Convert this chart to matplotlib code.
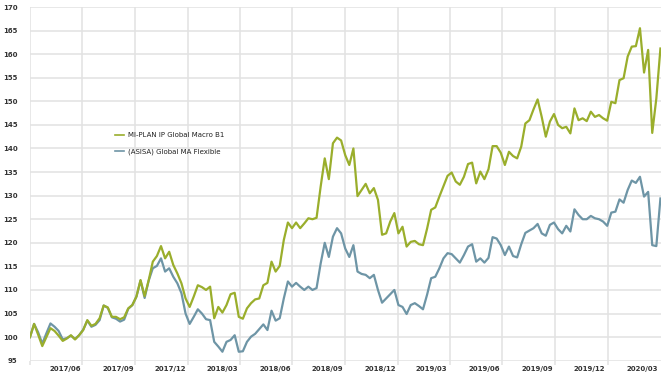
import matplotlib
matplotlib.use("Agg")
import matplotlib.pyplot as plt
import matplotlib.dates as mdates
import pandas as pd
import numpy as np

series_names = ["MI-PLAN IP Global Macro B1", "(ASISA) Global MA Flexible"]

green_values = [
    100, 102.8, 100.5, 98.1, 100, 101.9, 101.3, 100.3, 99.2, 99.7,
    100.4, 99.5, 100.4, 101.5, 103.6, 102.4, 102.8, 104, 106.7, 106.3,
    104.3, 104.3, 103.8, 104.2, 106.1, 106.8, 108.6, 112.1, 108.7, 112.1,
    116, 117.2, 119.3, 116.7, 118.1, 115.3, 113.5, 111.4, 108.2, 106.4,
    108.6, 111, 110.6, 110, 110.7, 104, 106.4, 105.2, 106.8, 109.1,
    109.4, 104.3, 103.9, 106.1, 107.2, 108, 108.2, 111, 111.5, 116,
    113.9, 115.1, 120.6, 124.3, 123.1, 124.3, 123.1, 124.1, 125.2, 125,
    125.3, 131.9, 137.9, 133.5, 141.1, 142.3, 141.7, 138.6, 136.5, 140,
    129.9, 131.2, 132.5, 130.5, 131.6, 129.1, 121.7, 122, 124.5, 126.3,
    122, 123.4, 119.2, 120.2, 120.4, 119.7, 119.5, 123, 127, 127.5,
    129.8, 132, 134.2, 134.9, 133, 132.3, 134, 136.7, 137, 132.6,
    135.1, 133.5, 135.6, 140.5, 140.5, 139.1, 136.5, 139.3, 138.4, 137.9,
    140.4, 145.3, 146, 148.3, 150.4, 146.7, 142.5, 145.7, 147.3, 145,
    144.3, 144.6, 143.2, 148.5, 146, 146.4, 145.8, 147.8, 146.7, 147.1,
    146.4, 145.9, 149.9, 149.6, 154.5, 154.9, 159.5, 161.6, 161.7, 165.5,
    156.1, 160.9, 143.3, 150.6, 161.2,
]

blue_values = [
    100, 102.8, 101, 98.6, 100.8, 102.9, 102.2, 101.3, 99.5, 99.8,
    100.3, 99.6, 100.4, 101.6, 103.5, 102.2, 102.6, 103.6, 106.7, 106.2,
    104.2, 103.9, 103.3, 103.7, 106, 106.8, 108.6, 112, 108.3, 112,
    114.6, 115.1, 116.7, 113.9, 114.6, 112.8, 111.4, 109.3, 105, 102.8,
    104.3, 105.9, 105, 103.8, 103.6, 99, 98, 96.9, 99, 99.4,
    100.4, 96.9, 97, 99, 100.1, 100.7, 101.7, 102.7, 101.5, 105.6,
    103.5, 104, 108.2, 111.8, 110.7, 111.5, 110.7, 110, 110.7, 110,
    110.4, 115.6, 120, 117, 121.3, 123.1, 122, 118.8, 117, 119.5,
    113.9, 113.4, 113.2, 112.5, 113.2, 110, 107.3, 108.2, 109.1, 110,
    106.8, 106.4, 104.9, 106.8, 107.2, 106.6, 105.9, 109, 112.5, 112.8,
    114.6, 116.7, 117.8, 117.6, 116.7, 115.8, 117.4, 119.2, 119.7, 116,
    116.7, 115.8, 116.8, 121.2, 120.9, 119.5, 117.4, 119.2, 117.2, 116.9,
    119.7, 122.1, 122.6, 123.1, 124, 122, 121.5, 123.8, 124.3, 122.9,
    122, 123.6, 122.4, 127.1, 125.9, 125, 125, 125.7, 125.2, 125,
    124.5, 123.6, 126.4, 126.6, 129.2, 128.5, 131.2, 133.2, 132.7, 134,
    129.8, 130.8, 119.5, 119.3, 129.4,
]

start_date = "2017-04-01"
end_date = "2020-04-02"
tick_labels = ["2017/06", "2017/09", "2017/12", "2018/03", "2018/06", "2018/09",
               "2018/12", "2019/03", "2019/06", "2019/09", "2019/12", "2020/03"]
grid_months = ["2017-04-01", "2017-07-01", "2017-10-01", "2018-01-01", "2018-04-01",
               "2018-07-01", "2018-10-01", "2019-01-01", "2019-04-01", "2019-07-01",
               "2019-10-01", "2020-01-01"]
y_ticks = list(range(95, 171, 5))

dates = pd.date_range(start_date, end_date, periods=len(green_values))
label_dates = pd.to_datetime([t.replace("/", "-") + "-01" for t in tick_labels])

W, H = 661, 380
fig = plt.figure(figsize=(W / 100, H / 100), dpi=100)
ax = fig.add_axes([30 / W, 1 - 360.7 / H, (W - 30) / W, (360.7 - 7) / H])

grid_c = "#e2e2e2"
green_c = "#9aae2c"
blue_c = "#6e95a6"

ax.plot(dates, blue_values, color=blue_c, lw=1.6, label=series_names[1], zorder=3)
ax.plot(dates, green_values, color=green_c, lw=1.6, label=series_names[0], zorder=4)

ax.set_ylim(95, 170)
ax.set_xlim(pd.Timestamp(start_date), pd.Timestamp("2020-04-03"))
ax.set_yticks(y_ticks)
ax.set_xticks(label_dates)
ax.set_xticklabels(tick_labels)
ax.set_xticks(pd.to_datetime(grid_months), minor=True)

for s in ax.spines.values():
    s.set_visible(False)

ax.grid(axis="y", which="major", color=grid_c, lw=1.1)
ax.grid(axis="x", which="minor", color=grid_c, lw=1.1)
ax.grid(axis="x", which="major", visible=False)
ax.tick_params(axis="y", length=0, pad=9, labelsize=5, labelcolor="#333333")
ax.tick_params(axis="x", which="major", length=0, pad=4, labelsize=5, labelcolor="#333333")
ax.tick_params(axis="x", which="minor", length=3, color=grid_c, width=1.1)
for lab in ax.get_xticklabels() + ax.get_yticklabels():
    lab.set_fontweight("bold")

handles, labels = ax.get_legend_handles_labels()
leg = fig.legend(handles[::-1], labels[::-1], loc="upper left",
                 bbox_to_anchor=(115 / W, 1 - 132 / H), bbox_transform=fig.transFigure,
                 frameon=False, fontsize=5, handlelength=1.3, handletextpad=0.5,
                 labelspacing=1.45, borderpad=0, borderaxespad=0)
for t in leg.get_texts():
    t.set_color("#222222")
for l in leg.get_lines():
    l.set_linewidth(1.2)

fig.savefig("out.png", dpi=100)
